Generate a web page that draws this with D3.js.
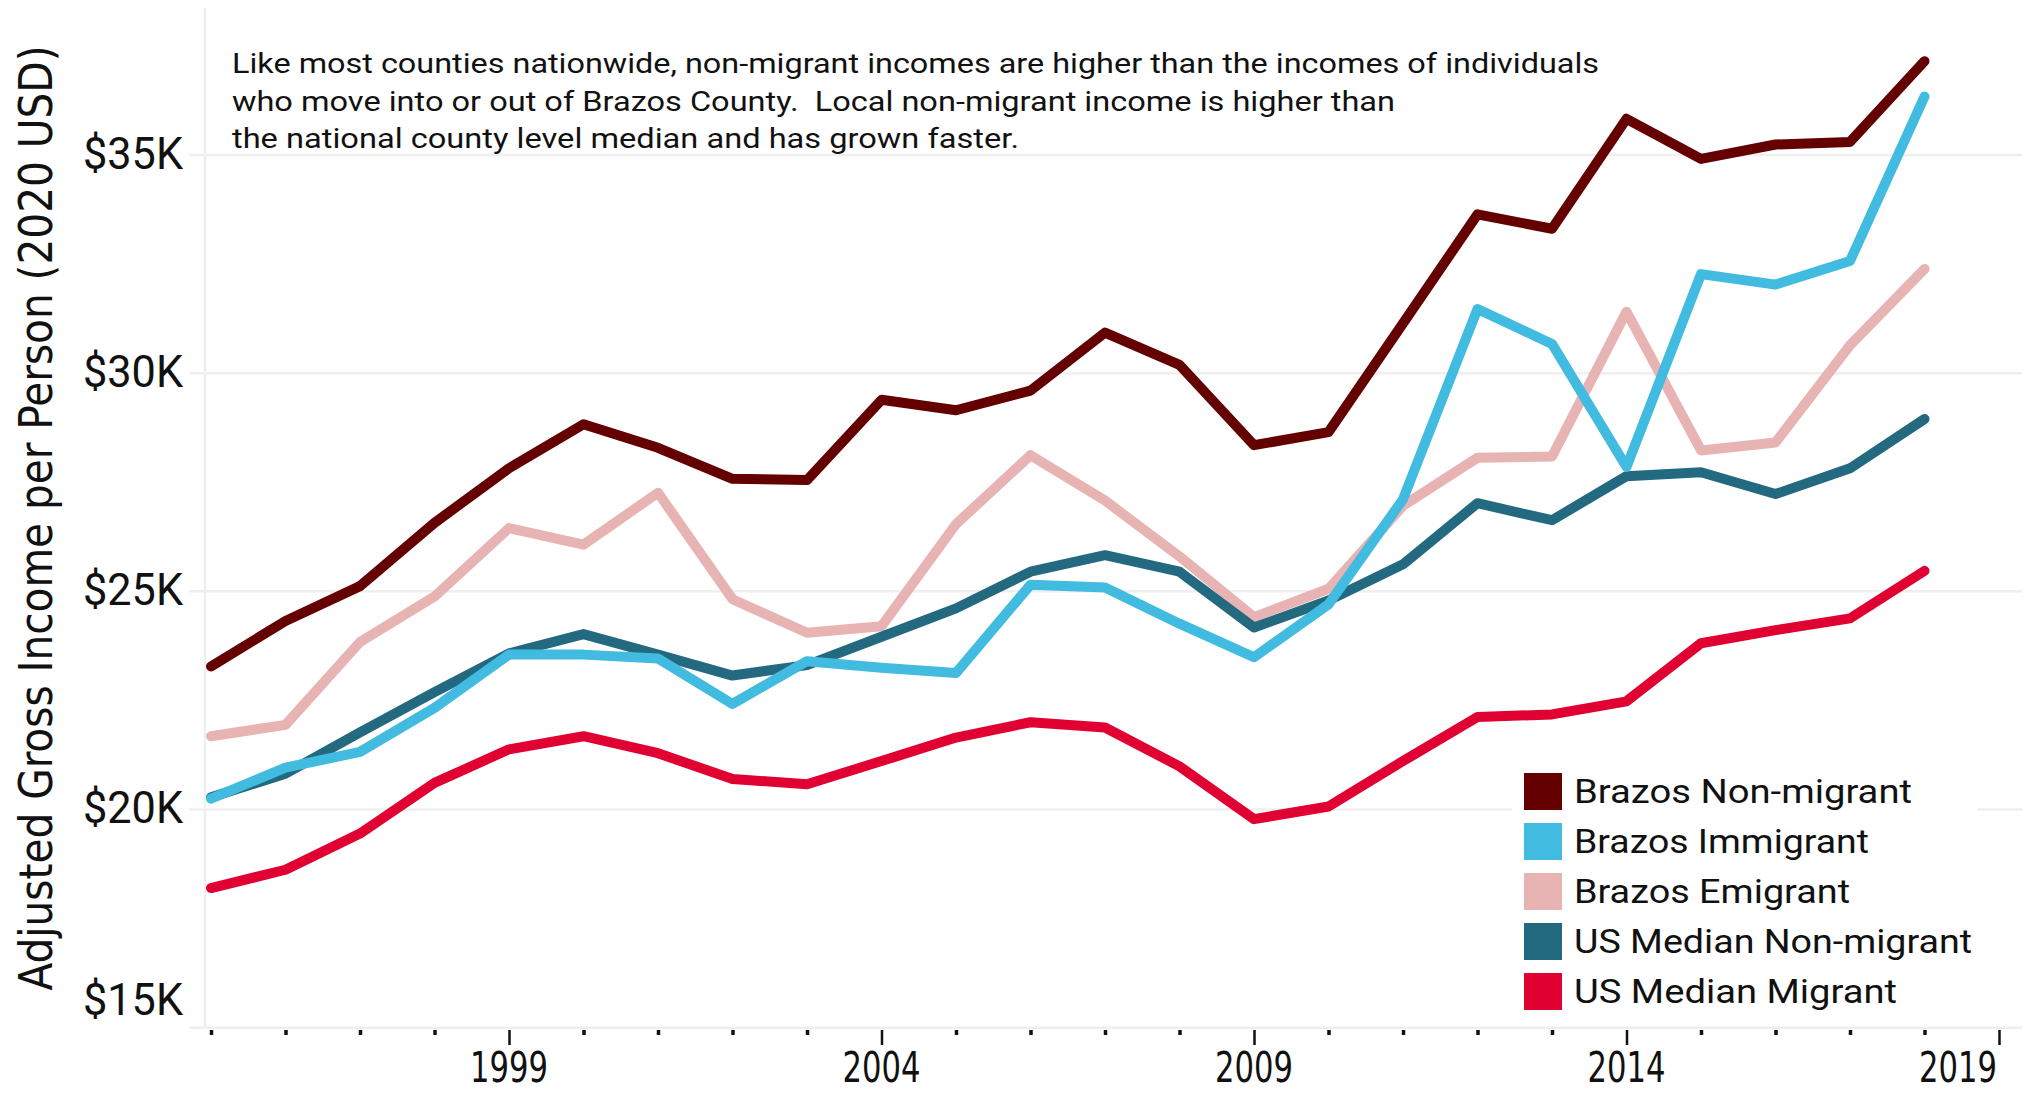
<!DOCTYPE html>
<html>
<head>
<meta charset="utf-8">
<script src="https://cdn.jsdelivr.net/npm/d3@7"></script>
<style>
  html, body { margin: 0; padding: 0; background: #fff; }
  svg { display: block; }
  text { white-space: pre; }
</style>
</head>
<body>
<svg id="chart" width="2025" height="1093"></svg>
<script>
// ---------- DATA ----------
const years = [1995, 1996, 1997, 1998, 1999, 2000, 2001, 2002, 2003, 2004, 2005, 2006,
               2007, 2008, 2009, 2010, 2011, 2012, 2013, 2014, 2015, 2016, 2017, 2018];

const brazosNonMigrant = [23280, 24320, 25120, 26570, 27820, 28830, 28290, 27580, 27550, 29390, 29150, 29600,
                          30930, 30190, 28350, 28650, 31140, 33640, 33310, 35830, 34910, 35240, 35300, 37150];
const brazosImmigrant  = [20250, 20960, 21320, 22330, 23550, 23550, 23460, 22420, 23400, 23250, 23130, 25150,
                          25090, 24260, 23490, 24700, 27110, 31470, 30670, 27850, 32270, 32030, 32570, 36340];
const brazosEmigrant   = [21680, 21940, 23840, 24880, 26450, 26070, 27260, 24820, 24050, 24200, 26540, 28120,
                          27080, 25800, 24410, 25060, 26960, 28060, 28090, 31410, 28230, 28410, 30640, 32390];
const usNonMigrant     = [20280, 20820, 21770, 22690, 23580, 24020, 23550, 23070, 23310, 23960, 24610, 25450,
                          25830, 25450, 24170, 24790, 25620, 27020, 26630, 27640, 27730, 27230, 27820, 28950];
const usMigrant        = [18200, 18620, 19450, 20610, 21380, 21680, 21290, 20700, 20580, 21110, 21650, 22000,
                          21880, 20990, 19780, 20070, 21110, 22120, 22180, 22480, 23810, 24110, 24380, 25470];

const seriesNames  = ["Brazos Non-migrant", "Brazos Immigrant", "Brazos Emigrant", "US Median Non-migrant", "US Median Migrant"];
const seriesColors = ["#640000", "#41BBE0", "#E8B3B3", "#236A80", "#E10032"];
const seriesValues = [brazosNonMigrant, brazosImmigrant, brazosEmigrant, usNonMigrant, usMigrant];
const drawOrder    = [2, 3, 4, 0, 1];

const yTicks = [15000, 20000, 25000, 30000, 35000];
const xLabelYears = [1999, 2004, 2009, 2014, 2019];
const xTickYears = [1995, 1996, 1997, 1998, 1999, 2000, 2001, 2002, 2003, 2004, 2005, 2006, 2007,
                    2008, 2009, 2010, 2011, 2012, 2013, 2014, 2015, 2016, 2017, 2018, 2019];

const yTitle = "Adjusted Gross Income per Person (2020 USD)";
const noteLines = [
  "Like most counties nationwide, non-migrant incomes are higher than the incomes of individuals",
  "who move into or out of Brazos County.  Local non-migrant income is higher than",
  "the national county level median and has grown faster."
];

// ---------- LAYOUT ----------
const svg = d3.select("#chart");
const x = d3.scaleLinear().domain([1995, 2019]).range([211, 1999]);
const y = d3.scaleLinear().domain([15000, 35000]).range([1027.7, 155]);

const gridColor = "#efefef";
const mainFont = "Roboto, 'Noto Sans', 'DejaVu Sans', sans-serif";
const condFont = "'DejaVu Sans Condensed', 'Liberation Sans Narrow', Roboto, sans-serif";

// gridlines
svg.append("g").selectAll("line").data(yTicks).join("line")
  .attr("x1", 189).attr("x2", 2022)
  .attr("y1", d => y(d)).attr("y2", d => y(d))
  .attr("stroke", gridColor).attr("stroke-width", 2.5);

// vertical axis line
svg.append("line")
  .attr("x1", 205).attr("x2", 205).attr("y1", 8).attr("y2", y(15000))
  .attr("stroke", gridColor).attr("stroke-width", 2.5);

// y tick labels
svg.append("g").selectAll("text").data(yTicks).join("text")
  .attr("x", 183)
  .attr("y", d => d === 15000 ? y(d) - 24 : y(d) + 2)
  .attr("text-anchor", "end")
  .attr("dominant-baseline", "middle")
  .attr("font-family", mainFont)
  .attr("font-size", 44)
  .attr("fill", "#111")
  .attr("textLength", 100)
  .attr("lengthAdjust", "spacingAndGlyphs")
  .text(d => "$" + d3.format("d")(d / 1000) + "K");

// y title
svg.append("text")
  .attr("transform", "translate(52,518) rotate(-90)")
  .attr("text-anchor", "middle")
  .attr("font-family", condFont)
  .attr("font-size", 46)
  .attr("fill", "#111")
  .attr("textLength", 945)
  .attr("lengthAdjust", "spacingAndGlyphs")
  .text(yTitle);

// x ticks
const xAxis = d3.axisBottom(x)
  .tickValues(xTickYears)
  .tickSize(0)
  .tickFormat("");
const xg = svg.append("g").attr("transform", `translate(0,${1030})`).call(xAxis);
xg.select(".domain").remove();
xg.selectAll(".tick").append("line")
  .attr("y1", 0)
  .attr("y2", d => xLabelYears.includes(d) ? 15 : 5)
  .attr("stroke", "#111")
  .attr("stroke-width", d => xLabelYears.includes(d) ? 2.5 : 3.5);

// x labels
svg.append("g").selectAll("text").data(xLabelYears).join("text")
  .attr("x", d => Math.min(x(d), 1958))
  .attr("y", 1082)
  .attr("text-anchor", "middle")
  .attr("font-family", condFont)
  .attr("font-size", 43)
  .attr("fill", "#111")
  .attr("textLength", 78)
  .attr("lengthAdjust", "spacingAndGlyphs")
  .text(d => d);

// lines
const line = d3.line()
  .x((d, i) => x(years[i]))
  .y(d => y(d));

svg.append("g").selectAll("path").data(drawOrder).join("path")
  .attr("d", k => line(seriesValues[k]))
  .attr("fill", "none")
  .attr("stroke", k => seriesColors[k])
  .attr("stroke-width", 10)
  .attr("stroke-linejoin", "round")
  .attr("stroke-linecap", "round");

// annotation
const noteWidths = [1367, 1163, 787];
svg.append("g").selectAll("text").data(noteLines).join("text")
  .attr("x", 232)
  .attr("y", (d, i) => 73 + i * 37.5)
  .attr("font-family", mainFont)
  .attr("font-size", 28)
  .attr("fill", "#111")
  .attr("textLength", (d, i) => noteWidths[i])
  .attr("lengthAdjust", "spacingAndGlyphs")
  .text(d => d);

// legend
const lg = svg.append("g");
lg.append("rect")
  .attr("x", 1512).attr("y", 760).attr("width", 466).attr("height", 262)
  .attr("fill", "#fff");
const legendWidths = [338, 295, 276, 398, 323];
const items = lg.selectAll("g.item").data(seriesNames).join("g")
  .attr("class", "item")
  .attr("transform", (d, i) => `translate(0,${773 + i * 50})`);
items.append("rect")
  .attr("x", 1524).attr("y", 0).attr("width", 38).attr("height", 37)
  .attr("fill", (d, i) => seriesColors[i]);
items.append("text")
  .attr("x", 1574).attr("y", 30)
  .attr("font-family", mainFont)
  .attr("font-size", 34)
  .attr("fill", "#111")
  .attr("textLength", (d, i) => legendWidths[i])
  .attr("lengthAdjust", "spacingAndGlyphs")
  .text(d => d);
</script>
</body>
</html>
